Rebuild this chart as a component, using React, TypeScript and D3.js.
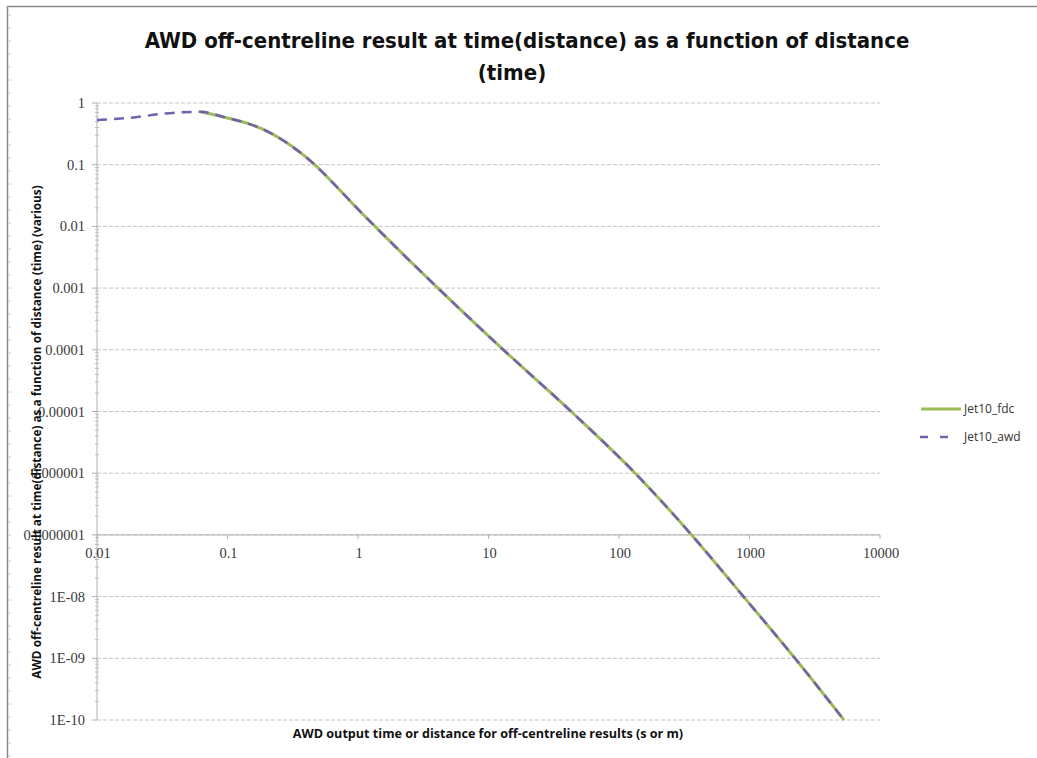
import React from "react";
import * as d3 from "d3";

// Off-centreline result vs. output time / distance (log–log)
const awdDistance = [
  0.01, 0.02, 0.03, 0.045, 0.062, 0.1, 0.15, 0.2, 0.3, 0.45, 0.7, 1.0, 1.35,
  4.1, 13, 43, 133, 360, 900, 2230, 5300,
];
const awdValue = [
  0.53, 0.59, 0.66, 0.71, 0.72, 0.57, 0.45, 0.35, 0.21, 0.107, 0.042, 0.019,
  0.01, 0.001, 1e-4, 1e-5, 1e-6, 1e-7, 1e-8, 1e-9, 1e-10,
];
const fdcDistance = [
  0.062, 0.1, 0.15, 0.2, 0.3, 0.45, 0.7, 1.0, 1.35, 4.1, 13, 43, 133, 360, 900,
  2230, 5300,
];
const fdcValue = [
  0.72, 0.57, 0.45, 0.35, 0.21, 0.107, 0.042, 0.019, 0.01, 0.001, 1e-4, 1e-5,
  1e-6, 1e-7, 1e-8, 1e-9, 1e-10,
];

const xTicks = [0.01, 0.1, 1, 10, 100, 1000, 10000];
const xTickLabels = ["0.01", "0.1", "1", "10", "100", "1000", "10000"];
const yTicks = [1, 0.1, 0.01, 1e-3, 1e-4, 1e-5, 1e-6, 1e-7, 1e-8, 1e-9, 1e-10];
const yTickLabels = [
  "1", "0.1", "0.01", "0.001", "0.0001", "0.00001", "0.000001", "0.0000001",
  "1E-08", "1E-09", "1E-10",
];
const seriesNames = ["Jet10_fdc", "Jet10_awd"];

const W = 1037;
const H = 758;
const left = 97;
const right = 880;
const top = 103;
const bottom = 720;

const xScale = d3.scaleLog().domain([0.01, 10000]).range([left, right]);
const yScale = d3.scaleLog().domain([1e-10, 1]).range([bottom, top]);
const xCross = 1e-7; // horizontal axis crosses here

const GREEN = "#9bbb59";
const PURPLE = "#7560ad";
const GRID = "#c4c4c4";

export default function App() {
  const line = d3
    .line<[number, number]>()
    .x((d) => xScale(d[0]))
    .y((d) => yScale(d[1]))
    .curve(d3.curveMonotoneX);

  const awdPts = awdDistance.map((x, i) => [x, awdValue[i]] as [number, number]);
  const fdcPts = fdcDistance.map((x, i) => [x, fdcValue[i]] as [number, number]);

  // minor log ticks on the vertical axis
  const minorY: number[] = [];
  for (let e = -10; e < 0; e++) {
    for (let m = 2; m <= 9; m++) minorY.push(m * Math.pow(10, e));
  }

  const axisY = yScale(xCross);
  const tickFont = "'Liberation Serif', 'DejaVu Serif', serif";
  const sans = "'Open Sans', 'Noto Sans', sans-serif";
  const titleFont = "'DejaVu Sans Condensed', 'Open Sans', sans-serif";

  // sheet edge ticks
  const edgeTicks = d3.range(15, H, 13);

  return (
    <svg
      width={W}
      height={H}
      style={{ position: "absolute", left: 0, top: 0, background: "#fff" }}
    >
      <rect x={0} y={0} width={W} height={H} fill="#fff" />
      {/* frame */}
      <line x1={7.5} y1={6} x2={7.5} y2={H} stroke="#8a8a8a" strokeWidth={1.5} />
      <line x1={7} y1={6.5} x2={W} y2={6.5} stroke="#8a8a8a" strokeWidth={1.5} />
      {edgeTicks.map((t) => (
        <line key={t} x1={8} x2={11} y1={t} y2={t} stroke="#c8c8c8" strokeWidth={1} />
      ))}

      {/* title */}
      <text
        x={527}
        y={48}
        textAnchor="middle"
        fontFamily={titleFont}
        fontWeight={700}
        fontSize={22}
        fill="#111"
      >
        AWD off-centreline result at time(distance) as a function of distance
      </text>
      <text
        x={512}
        y={80}
        textAnchor="middle"
        fontFamily={titleFont}
        fontWeight={700}
        fontSize={22}
        fill="#111"
      >
        (time)
      </text>

      {/* gridlines */}
      {yTicks.map((t) => (
        <line
          key={"g" + t}
          x1={left}
          x2={right}
          y1={yScale(t)}
          y2={yScale(t)}
          stroke={GRID}
          strokeWidth={1}
          strokeDasharray="4,2"
        />
      ))}

      {/* vertical axis */}
      <line x1={left} x2={left} y1={top} y2={bottom} stroke="#b0b0b0" strokeWidth={1} />
      {minorY.map((t, i) => (
        <line
          key={"m" + i}
          x1={left - 2}
          x2={left + 2}
          y1={yScale(t)}
          y2={yScale(t)}
          stroke="#c0c0c0"
          strokeWidth={1}
        />
      ))}
      {yTicks.map((t) => (
        <line
          key={"yt" + t}
          x1={left - 5}
          x2={left}
          y1={yScale(t)}
          y2={yScale(t)}
          stroke="#b0b0b0"
        />
      ))}
      {yTicks.map((t, i) => (
        <text
          key={"yl" + t}
          x={85}
          y={yScale(t) + 5}
          textAnchor="end"
          fontFamily={tickFont}
          fontSize={14.5}
          fill="#3a3a3a"
        >
          {yTickLabels[i]}
        </text>
      ))}

      {/* horizontal axis at 1e-7 */}
      <line x1={left} x2={right} y1={axisY} y2={axisY} stroke="#b0b0b0" strokeWidth={1} />
      {xTicks.map((t) => (
        <line
          key={"xt" + t}
          x1={xScale(t)}
          x2={xScale(t)}
          y1={axisY}
          y2={axisY + 4}
          stroke="#b0b0b0"
        />
      ))}
      {xTicks.map((t, i) => (
        <text
          key={"xl" + t}
          x={xScale(t) + 1}
          y={axisY + 23}
          textAnchor="middle"
          fontFamily={tickFont}
          fontSize={14.5}
          fill="#3a3a3a"
        >
          {xTickLabels[i]}
        </text>
      ))}

      {/* axis titles */}
      <text
        x={488}
        y={738}
        textAnchor="middle"
        fontFamily={sans}
        fontWeight={700}
        fontSize={12.6}
        fill="#111"
      >
        AWD output time or distance for off-centreline results (s or m)
      </text>
      <text
        transform={`translate(41, 432) rotate(-90)`}
        textAnchor="middle"
        fontFamily={sans}
        fontWeight={700}
        fontSize={11.8}
        fill="#111"
      >
        AWD off-centreline result at time(distance) as a function of distance (time) (various)
      </text>

      {/* series */}
      <path d={line(fdcPts) || ""} fill="none" stroke={GREEN} strokeWidth={3} />
      <path
        d={line(awdPts) || ""}
        fill="none"
        stroke={PURPLE}
        strokeWidth={2.5}
        strokeDasharray="10,7"
      />

      {/* legend */}
      <line x1={921} x2={961} y1={409} y2={409} stroke={GREEN} strokeWidth={3} />
      <text x={964} y={413} fontFamily={sans} fontSize={12} fill="#333">
        {seriesNames[0]}
      </text>
      <line
        x1={920}
        x2={952}
        y1={437}
        y2={437}
        stroke={PURPLE}
        strokeWidth={2.5}
        strokeDasharray="8,12"
      />
      <text x={964} y={441} fontFamily={sans} fontSize={12} fill="#333">
        {seriesNames[1]}
      </text>
    </svg>
  );
}
